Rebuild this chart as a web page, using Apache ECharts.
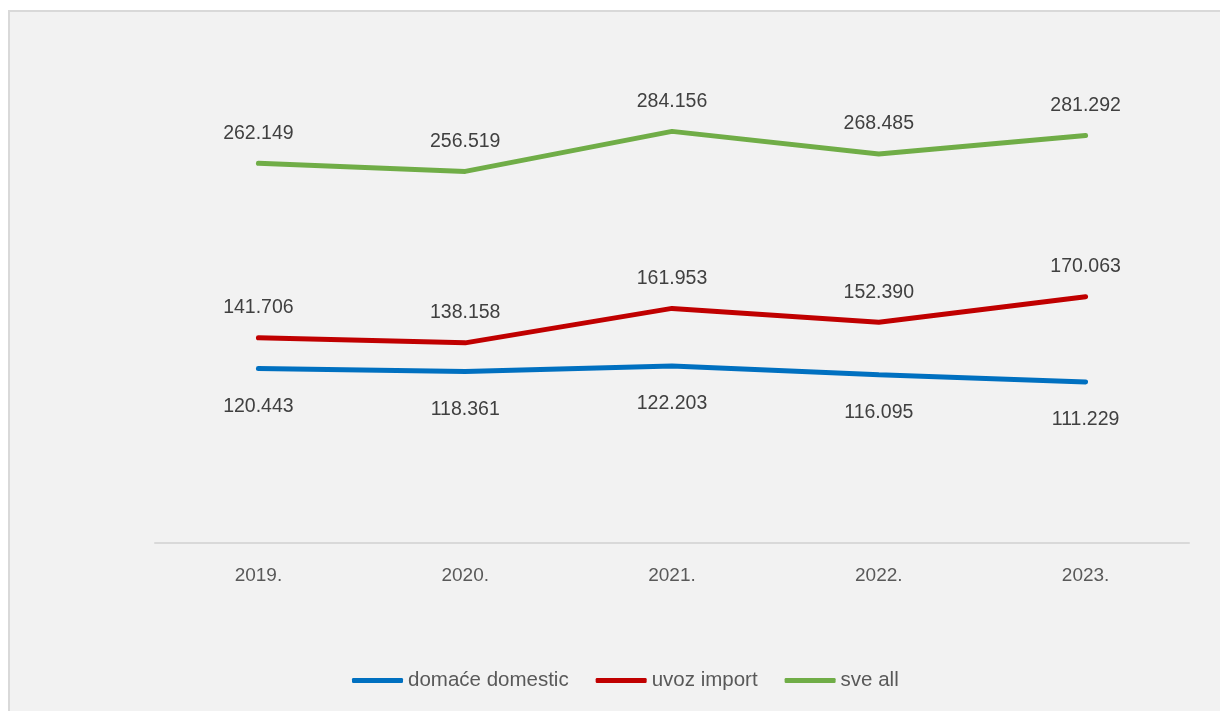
<!DOCTYPE html>
<html>
<head>
<meta charset="utf-8">
<script src="https://cdn.jsdelivr.net/npm/echarts@6/dist/echarts.min.js"></script>
<style>
html,body{margin:0;padding:0;background:#fff;}
#frame{position:absolute;left:8px;top:10px;width:1212px;height:701px;background:#f2f2f2;border-top:2px solid #d9d9d9;border-left:2px solid #d9d9d9;box-sizing:border-box;}
#main{position:absolute;left:0;top:0;width:1220px;height:711px;}
</style>
</head>
<body>
<div id="frame"></div>
<div id="main"></div>
<script>
const categories = ['2019.', '2020.', '2021.', '2022.', '2023.'];
const domestic = [120.443, 118.361, 122.203, 116.095, 111.229];
const importV = [141.706, 138.158, 161.953, 152.390, 170.063];
const all = [262.149, 256.519, 284.156, 268.485, 281.292];
const seriesNames = ['domaće domestic', 'uvoz import', 'sve all'];

const fmt = v => v.toFixed(3);
const chart = echarts.init(document.getElementById('main'));
const font = '"Liberation Sans", Arial, sans-serif';
function mk(name, data, color, pos, dist) {
  return {
    name, type: 'line', data, showSymbol: true, symbol: 'circle', symbolSize: 0,
    lineStyle: { color, width: 5, cap: 'round' },
    itemStyle: { color },
    label: {
      show: true, position: pos, distance: dist,
      formatter: p => fmt(p.value), color: '#404040', fontSize: 19.5, fontFamily: font
    },
    emphasis: { disabled: true }, animation: false
  };
}
chart.setOption({
  backgroundColor: 'transparent',
  animation: false,
  grid: { left: 155, right: 31, top: 36, bottom: 168 },
  legend: {
    top: 665, left: 347, itemWidth: 51, itemHeight: 5, itemGap: 27,
    icon: 'roundRect',
    textStyle: { color: '#595959', fontSize: 20.5, fontFamily: font },
    data: seriesNames
  },
  xAxis: {
    type: 'category', data: categories, boundaryGap: true,
    axisLine: { lineStyle: { color: '#d9d9d9', width: 2 } },
    axisTick: { show: false },
    axisLabel: { color: '#595959', fontSize: 19, fontFamily: font, margin: 23 }
  },
  yAxis: { type: 'value', min: 0, max: 350, show: false, splitLine: { show: false } },
  series: [
    mk(seriesNames[0], domestic, '#0070c0', 'bottom', 28),
    mk(seriesNames[1], importV, '#c00000', 'top', 20),
    mk(seriesNames[2], all, '#70ad47', 'top', 20)
  ]
});
</script>
</body>
</html>
